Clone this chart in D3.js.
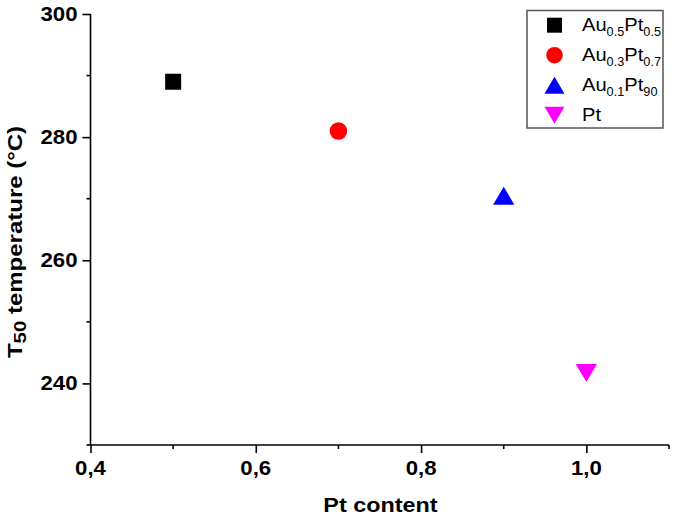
<!DOCTYPE html>
<html>
<head>
<meta charset="utf-8">
<script src="https://cdn.jsdelivr.net/npm/d3@7"></script>
<style>
  html, body { margin: 0; padding: 0; background: #fff; }
  svg { display: block; }
</style>
</head>
<body>
<svg id="chart" width="675" height="520"></svg>
<script>
// ---- data ----
const seriesNames = ["Au0.5Pt0.5", "Au0.3Pt0.7", "Au0.1Pt90", "Pt"];
const legendParts = [
  [["Au",""],["0.5","sub"],["Pt",""],["0.5","sub"]],
  [["Au",""],["0.3","sub"],["Pt",""],["0.7","sub"]],
  [["Au",""],["0.1","sub"],["Pt",""],["90","sub"]],
  [["Pt",""]]
];
const ptContent = [0.5, 0.7, 0.9, 1.0];
const t50 = [289, 281, 270.5, 241.7];
const seriesColors = ["#000000", "#ff0000", "#0000ff", "#ff00ff"];
const seriesShapes = ["square", "circle", "triangle", "triangleDown"];
const xTicks = [0.4, 0.6, 0.8, 1.0];
const xTickLabels = ["0,4", "0,6", "0,8", "1,0"];
const xMinorTicks = [0.5, 0.7, 0.9, 1.1];
const yTicks = [240, 260, 280, 300];
const yMinorTicks = [230, 250, 270, 290];

// ---- layout ----
const svg = d3.select("#chart");
const x = d3.scaleLinear().domain([0.4, 1.1]).range([90.5, 669]);
const y = d3.scaleLinear().domain([230, 300]).range([445, 14]);
const FONT = "'Liberation Sans', Arial, Helvetica, sans-serif";

function shapePath(shape, s) {
  if (shape === "square") {
    const h = s / 2;
    return `M${-h},${-h}H${h}V${h}H${-h}Z`;
  }
  if (shape === "circle") {
    const r = s / 2;
    return `M${r},0A${r},${r} 0 1,1 ${-r},0A${r},${r} 0 1,1 ${r},0Z`;
  }
  if (shape === "triangle") {
    const w = s * 1.18 / 2, h = s * 1.0 / 2;
    return `M0,${-h}L${w},${h}L${-w},${h}Z`;
  }
  if (shape === "triangleDown") {
    const w = s * 1.18 / 2, h = s * 1.0 / 2;
    return `M0,${h}L${w},${-h}L${-w},${-h}Z`;
  }
}
const shapeSize = { square: 16, circle: 17.5, triangle: 18, triangleDown: 18 };

// ---- axes ----
const axisColor = "#000";
const gx = svg.append("g").attr("transform", `translate(0,${y(230)})`);
gx.call(d3.axisBottom(x).tickValues(xTicks).tickSize(8).tickSizeOuter(0).tickFormat((d, i) => xTickLabels[i]));
gx.select(".domain").attr("stroke-width", 1.6).attr("d", `M${x(0.4)},0H${x(1.1)}`);
gx.selectAll(".tick line").attr("stroke-width", 1.6);
gx.selectAll(".tick text").remove();
gx.selectAll(".minor").data(xMinorTicks).enter().append("line")
  .attr("x1", d => x(d)).attr("x2", d => x(d)).attr("y1", 0).attr("y2", 4)
  .attr("stroke", axisColor).attr("stroke-width", 1.6);

const gy = svg.append("g").attr("transform", `translate(${x(0.4)},0)`);
gy.call(d3.axisLeft(y).tickValues(yTicks).tickSize(8).tickSizeOuter(0));
gy.select(".domain").attr("stroke-width", 1.6).attr("d", `M0,${y(300)}V${y(230)}`);
gy.selectAll(".tick line").attr("stroke-width", 1.6);
gy.selectAll(".tick text").remove();
gy.selectAll(".minor").data(yMinorTicks).enter().append("line")
  .attr("y1", d => y(d)).attr("y2", d => y(d)).attr("x1", 0).attr("x2", -4)
  .attr("stroke", axisColor).attr("stroke-width", 1.6);

// tick labels (stretched horizontally like the reference)
const SX = 1.11;
xTicks.forEach((d, i) => {
  svg.append("g").attr("transform", `translate(${x(d)},475)`)
    .append("text").attr("transform", `scale(${SX},1)`)
    .attr("text-anchor", "middle").attr("font-family", FONT)
    .attr("font-weight", "bold").attr("font-size", 20).text(xTickLabels[i]);
});
yTicks.forEach(d => {
  svg.append("g").attr("transform", `translate(77.5,${y(d) + 7})`)
    .append("text").attr("transform", `scale(${SX},1)`)
    .attr("text-anchor", "end").attr("font-family", FONT)
    .attr("font-weight", "bold").attr("font-size", 20).text(d);
});

// axis titles
svg.append("g").attr("transform", `translate(380.5,512)`)
  .append("text").attr("transform", "scale(1.17,1)")
  .attr("text-anchor", "middle").attr("font-family", FONT)
  .attr("font-weight", "bold").attr("font-size", 20).text("Pt content");

const yt = svg.append("g").attr("transform", `translate(22,242) rotate(-90)`)
  .append("text").attr("transform", "scale(1.2,1)")
  .attr("text-anchor", "middle").attr("font-family", FONT)
  .attr("font-weight", "bold").attr("font-size", 20);
yt.append("tspan").text("T");
yt.append("tspan").attr("font-size", 17).attr("dy", 4).text("50");
yt.append("tspan").attr("dy", -4).text(" temperature (°C)");

// ---- points ----
svg.append("g").selectAll("path").data(ptContent).enter().append("path")
  .attr("transform", (d, i) => `translate(${x(d)},${y(t50[i])})`)
  .attr("d", (d, i) => shapePath(seriesShapes[i], shapeSize[seriesShapes[i]]))
  .attr("fill", (d, i) => seriesColors[i]);

// ---- legend ----
const lg = svg.append("g");
lg.append("rect").attr("x", 527).attr("y", 10.5).attr("width", 136).attr("height", 117.5)
  .attr("fill", "#fff").attr("stroke", "#555").attr("stroke-width", 1.5);
seriesNames.forEach((name, i) => {
  const by = 30.7 + i * 30;
  lg.append("path").attr("transform", `translate(554.5,${by - 5.5})`)
    .attr("d", shapePath(seriesShapes[i], shapeSize[seriesShapes[i]] - 1))
    .attr("fill", seriesColors[i]);
  const t = lg.append("g").attr("transform", `translate(582,${by})`)
    .append("text").attr("transform", "scale(1.06,1)")
    .attr("font-family", FONT).attr("font-size", 19).attr("fill", "#000");
  let sub = false;
  legendParts[i].forEach(([txt, kind]) => {
    const ts = t.append("tspan").text(txt);
    if (kind === "sub" && !sub) { ts.attr("font-size", 12).attr("dy", 5); sub = true; }
    else if (kind === "sub") { ts.attr("font-size", 12); }
    else if (sub) { ts.attr("dy", -5); sub = false; }
  });
});
</script>
</body>
</html>
